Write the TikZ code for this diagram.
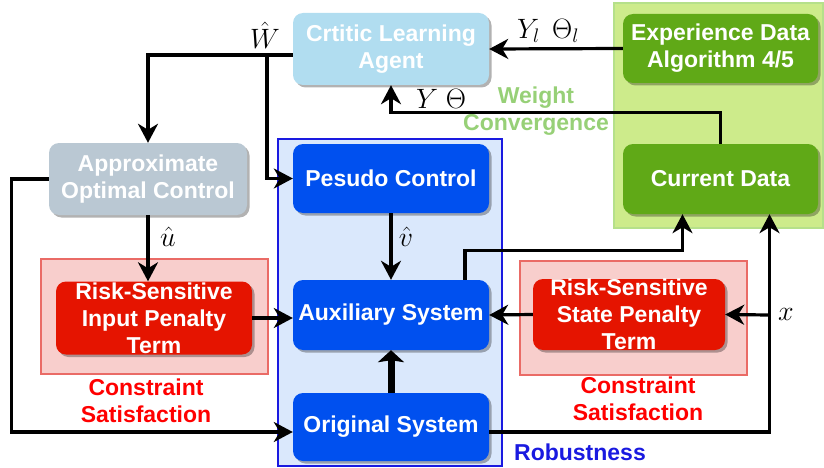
\documentclass[tikz,border=0pt]{standalone}
\usepackage{fix-cm}
\usepackage{fontspec}
\setmainfont{Liberation Sans}
\usetikzlibrary{arrows.meta,shadows,calc}
\definecolor{cblue}{HTML}{0050EF}
\definecolor{clight}{HTML}{B1DDF0}
\definecolor{cgray}{HTML}{BAC8D3}
\definecolor{cgreen}{HTML}{60A917}
\definecolor{cgreenbg}{HTML}{CDEB8B}
\definecolor{cgreenbd}{HTML}{B5E08A}
\definecolor{cbluebg}{HTML}{DAE8FC}
\definecolor{cbluebd}{HTML}{1A1AE0}
\definecolor{cred}{HTML}{E51400}
\definecolor{credbg}{HTML}{F8CECC}
\definecolor{credbd}{HTML}{EA6B66}
\definecolor{cwc}{HTML}{97D077}
\tikzset{
  box/.style={rounded corners=10pt, text=white, align=center,
    font=\fontsize{23}{27}\selectfont\bfseries, inner sep=0pt,
    drop shadow={shadow xshift=2.5pt, shadow yshift=-2.5pt, opacity=0.3, fill=black}},
  arr/.style={line width=3.2pt, -{Stealth[length=19pt,width=20pt,inset=6pt]}},
  lbl/.style={font=\fontsize{23}{27}\selectfont\bfseries, align=center},
  mlbl/.style={font=\fontsize{28}{32}\selectfont, inner sep=0pt}
}
\begin{document}
\begin{tikzpicture}[x=1pt,y=-1pt]
\useasboundingbox (0,0) rectangle (824,468);
% containers
\path[fill=cgreenbg, draw=cgreenbd, line width=1.5pt] (614,3) rectangle (823,228);
\path[fill=cbluebg, draw=cbluebd, line width=1.5pt] (278,139) rectangle (502,466);
\path[fill=credbg, draw=credbd, line width=1.5pt] (41,259) rectangle (268,374);
\path[fill=credbg, draw=credbd, line width=1.5pt] (520,261) rectangle (747,375);
% nodes
\node[box, fill=clight, minimum width=196pt, minimum height=72pt] (critic) at (391,49) {Crtitic Learning\\Agent};
\node[box, fill=cgreen, minimum width=195pt, minimum height=69pt] (exper) at (720.5,48.5) {Experience Data\\Algorithm 4/5};
\node[box, fill=cgreen, minimum width=195pt, minimum height=70pt] (current) at (720.5,179) {Current Data};
\node[box, fill=cgray, minimum width=198pt, minimum height=72pt] (approx) at (148,179) {Approximate\\Optimal Control};
\node[box, fill=cblue, minimum width=196pt, minimum height=69pt] (pseudo) at (391,178.5) {Pesudo Control};
\node[box, fill=cblue, minimum width=196pt, minimum height=70pt] (aux) at (391,315) {Auxiliary System};
\node[box, fill=cblue, minimum width=196pt, minimum height=68pt] (orig) at (391,427) {Original System};
\node[box, fill=cred, minimum width=196pt, minimum height=73pt] (inpen) at (154,318) {Risk-Sensitive\\Input Penalty\\Term};
\node[box, fill=cred, minimum width=192pt, minimum height=71pt] (stpen) at (629,314.5) {Risk-Sensitive\\State Penalty\\Term};
% labels
\node[lbl, text=cwc] (wc) at (536,111) {Weight\\Convergence};
\node[lbl, text=red] (cs1) at (146,401) {Constraint\\Satisfaction};
\node[lbl, text=red] (cs2) at (638,399) {Constraint\\Satisfaction};
\node[lbl, text=cbluebd] (rob) at (580,452) {Robustness};
\node[mlbl] (lw) at (265,35) {$\hat{W}$};
\node[mlbl] (lyl) at (548,31) {$Y_l\ \,\Theta_l$};
\node[mlbl] (ly) at (441,99) {$Y\ \Theta$};
\node[mlbl] (lu) at (168,237) {$\hat{u}$};
\node[mlbl] (lv) at (406,237) {$\hat{v}$};
% connectors
\coordinate (wsrc) at ($(critic.west)+(0,6)$);
\coordinate (br) at (267,55);
\draw[arr] (wsrc) -| (approx.north);
\draw[arr] (br) |- (pseudo.west);
\draw[arr] (exper.west) -- (critic.east);
\draw[arr] (current.north) -- ++(0,-31) -| (critic.south);
\draw[arr] (approx.south) -- (approx.south |- inpen.north);
\coordinate (osrc) at ($(orig.west)+(0,5)$);
\draw[arr] (approx.west) -- ++(-37,0) |- (osrc);
\draw[arr] (pseudo.south) -- (aux.north);
\draw[arr] (inpen.east) -- (inpen.east -| aux.west);
\draw[line width=7pt, -{Stealth[length=12pt,width=26pt,inset=2pt]}] (orig.north) -- (aux.north |- aux.south);
\coordinate (asrc) at ($(aux.north)+(74,0)$);
\coordinate (cdl) at ($(current.south)+(-38,0)$);
\coordinate (cdr) at ($(current.south)+(49,0)$);
\draw[arr] (asrc) -- ++(0,-29) -| (cdl);
\coordinate (oeast) at ($(orig.east)+(0,5)$);
\draw[arr] (oeast) -| (cdr);
\coordinate (xj) at (769,315);
\draw[arr] (xj) -- (stpen.east);
\node[mlbl] (lx) at (786,314) {$x$};
\draw[arr] (stpen.west) -- (aux.east);
\end{tikzpicture}
\end{document}
